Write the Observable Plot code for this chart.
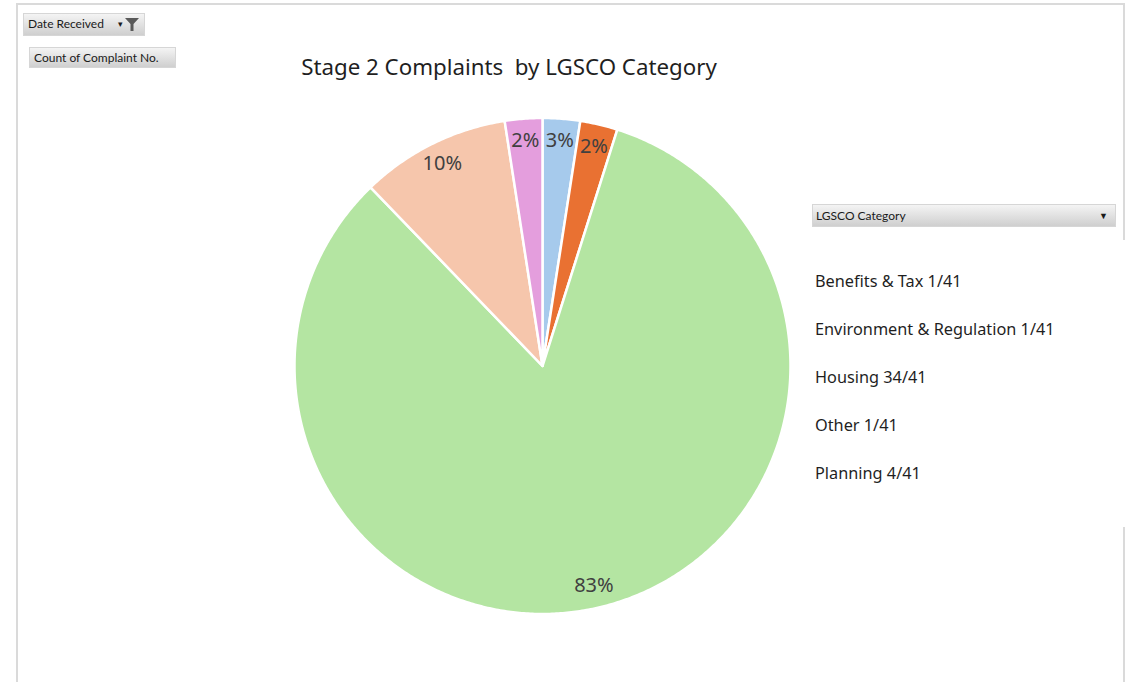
<!DOCTYPE html>
<html>
<head>
<meta charset="utf-8">
<script src="https://cdn.jsdelivr.net/npm/d3@7"></script>
<script src="https://cdn.jsdelivr.net/npm/@observablehq/plot@0.6"></script>
<style>
  html, body { margin: 0; padding: 0; background: #fff; }
  #page { position: relative; width: 1135px; height: 682px; overflow: hidden; font-family: "Noto Sans", sans-serif; }
  #frame { position: absolute; left: 16px; top: 3px; width: 1109px; height: 720px; border: 2px solid #dadada; box-sizing: border-box; }
  #chart { position: absolute; left: 0; top: 0; }
  .btn { position: absolute; box-sizing: border-box; background: linear-gradient(#f4f4f4, #cfcfcf); border: 1px solid #d6d6d6;
         font-family: "Lato", sans-serif; font-size: 12px; color: #1a1a1a; line-height: 20px; padding-left: 4px; white-space: nowrap; }
  #title { position: absolute; left: 509px; top: 51px; transform: translateX(-50%); font-size: 22.3px; color: #1f1f1f; white-space: pre; }
  #legendMask { position: absolute; left: 1100px; top: 240px; width: 35px; height: 287px; background: #fff; }
  #legend { position: absolute; left: 815px; top: 270px; }
  .item { position: absolute; left: 0; white-space: nowrap; font-size: 16.3px; color: #1f1f1f; }
</style>
</head>
<body>
<div id="page">
  <div id="frame"></div>
  <div id="chart"></div>
  <div class="btn" style="left:23px; top:13px; width:122px; height:23px;">Date Received
    <span style="position:absolute; left:94px; top:0; font-size:9px;">&#9662;</span>
    <svg style="position:absolute; left:101px; top:4px;" width="14" height="13"><path d="M0,0 H14 L8.5,6 V13 H5.5 V6 Z" fill="#595959"/></svg>
  </div>
  <div class="btn" style="left:29px; top:47px; width:147px; height:21px; line-height:19px;">Count of Complaint No.</div>
  <div id="title"></div>
  <div class="btn" style="left:812px; top:204px; width:304px; height:23px; line-height:21px; padding-left:3px;">LGSCO Category
    <span style="position:absolute; left:286px; top:0; font-size:9px;">&#9660;</span>
  </div>
  <div id="legendMask"></div>
  <div id="legend"></div>
</div>
<script>
// ---- data ----
const title = "Stage 2 Complaints  by LGSCO Category";
const sliceCategories = ["Benefits & Tax", "Environment & Regulation", "Housing", "Planning", "Other"];
const sliceCounts = [1, 1, 34, 4, 1];
const sliceLabels = ["3%", "2%", "83%", "10%", "2%"];
const sliceColors = ["#a6caec", "#e97132", "#b4e5a2", "#f6c6ac", "#e49edd"];
const legendCategories = ["Benefits & Tax", "Environment & Regulation", "Housing", "Other", "Planning"];
const total = 41;

// ---- layout ----
const W = 1135, H = 682;
const cx = 542, cy = 365.5, R = 248, labelR = 0.91 * R;

document.getElementById("title").textContent = title;

const slices = sliceCategories.map((c, i) => ({category: c, count: sliceCounts[i], label: sliceLabels[i], color: sliceColors[i]}));
const arcs = d3.pie().sort(null).value(d => d.count)(slices);

const pt = (a, r) => [cx + r * Math.sin(a), cy - r * Math.cos(a)];

const features = arcs.map(a => {
  const n = Math.max(2, Math.ceil((a.endAngle - a.startAngle) / (Math.PI / 360)));
  const ring = [[cx, cy]];
  for (let k = 0; k <= n; k++) ring.push(pt(a.startAngle + (a.endAngle - a.startAngle) * k / n, R));
  ring.push([cx, cy]);
  return {type: "Feature", properties: a.data, geometry: {type: "Polygon", coordinates: [ring]}};
});

const labels = arcs.map(a => {
  const m = (a.startAngle + a.endAngle) / 2;
  const [x, y] = pt(m, labelR);
  return {x, y, text: a.data.label};
});

const chart = Plot.plot({
  width: W,
  height: H,
  margin: 0,
  projection: {type: "identity"},
  style: {background: "transparent", fontFamily: "Noto Sans, sans-serif"},
  marks: [
    Plot.geo(features, {fill: d => d.properties.color, stroke: "white", strokeWidth: 2.5}),
    Plot.text(labels, {x: "x", y: "y", text: "text", fontSize: 20, fill: "#404040"})
  ]
});
document.getElementById("chart").appendChild(chart);

// ---- legend (text only) ----
const legend = document.getElementById("legend");
legendCategories.forEach((c, i) => {
  const el = document.createElement("div");
  el.className = "item";
  el.style.top = (i * 48) + "px";
  el.textContent = `${c} ${sliceCounts[sliceCategories.indexOf(c)]}/${total}`;
  legend.appendChild(el);
});
</script>
</body>
</html>
